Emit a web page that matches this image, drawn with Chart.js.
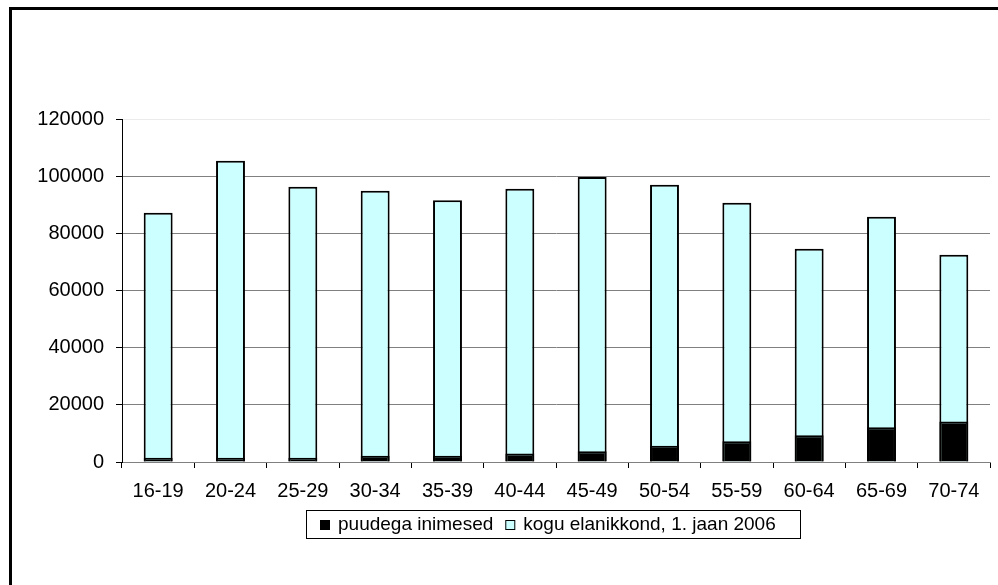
<!DOCTYPE html>
<html>
<head>
<meta charset="utf-8">
<title>Puudega inimesed vanuserühmiti</title>
<script src="https://cdn.jsdelivr.net/npm/chart.js@4/dist/chart.umd.min.js"></script>
<style>
    html, body { margin: 0; padding: 0; background: #fff; }
    canvas { display: block; }
</style>
</head>
<body>
<canvas id="chartPuue" width="998" height="585"></canvas>
<script>
// andmed (loetud pildilt)
const vanuseRuhmad = ['16-19', '20-24', '25-29', '30-34', '35-39', '40-44', '45-49', '50-54', '55-59', '60-64', '65-69', '70-74'];
const puudegaInimesed = [1500, 1500, 1500, 2200, 2200, 3000, 3800, 5700, 7300, 9400, 12200, 14200];
const koguElanikkond = [87200, 105400, 96300, 94900, 91600, 95600, 99700, 97000, 90700, 74600, 85800, 72500];
const seeriaNimed = ['puudega inimesed', 'kogu elanikkond, 1. jaan 2006'];
const yMax = 120000;
const ySamm = 20000;

const FONT = '"Liberation Sans", Arial, sans-serif';

// raam ja legend joonistatakse käsitsi
const raamJaLegend = {
    id: 'raamJaLegend',
    beforeDraw(chart) {
        const c = chart.ctx;
        c.save();
        c.fillStyle = '#fff';
        c.fillRect(0, 0, chart.width, chart.height);
        c.fillStyle = '#000';
        c.fillRect(9, 7, chart.width - 9, 3);
        c.fillRect(9, 7, 3, chart.height - 7);
        c.restore();
    },
    afterDraw(chart) {
        const c = chart.ctx;
        const kast = { x: 306, y: 510, w: 494, h: 28 };
        c.save();
        c.font = '19px ' + FONT;
        c.strokeStyle = '#000';
        c.lineWidth = 1;
        c.strokeRect(kast.x + 0.5, kast.y + 0.5, kast.w, kast.h);
        let x = kast.x + 14;
        const yKesk = kast.y + kast.h / 2 + 1;
        c.textBaseline = 'middle';
        chart.data.datasets.forEach(d => {
            c.fillStyle = d.backgroundColor;
            c.fillRect(x, yKesk - 5, 10, 10);
            c.strokeRect(x + 0.5, yKesk - 4.5, 9, 9);
            x += 10 + 8;
            c.fillStyle = '#000';
            c.fillText(d.label, x, yKesk);
            x += c.measureText(d.label).width + 12;
        });
        c.restore();
    }
};

new Chart(document.getElementById('chartPuue'), {
    type: 'bar',
    data: {
        labels: vanuseRuhmad,
        datasets: [
            { label: seeriaNimed[0], data: puudegaInimesed, backgroundColor: '#000000', borderColor: '#000', borderWidth: 2 },
            { label: seeriaNimed[1], data: koguElanikkond, backgroundColor: '#ccffff', borderColor: '#000', borderWidth: 2 }
        ]
    },
    options: {
        responsive: false,
        animation: false,
        devicePixelRatio: 1,
        categoryPercentage: 1,
        barPercentage: 0.4,
        layout: { padding: { left: 0, right: 8, top: 119, bottom: 73 } },
        plugins: { legend: { display: false }, tooltip: { enabled: false } },
        scales: {
            x: {
                stacked: true,
                afterFit: s => { s.height = 50; },
                grid: { drawOnChartArea: false, offset: true, tickLength: 6, color: '#000' },
                border: { color: '#808080', width: 1 },
                ticks: { color: '#000', font: { family: FONT, size: 20 }, padding: 11, maxRotation: 0, autoSkip: false }
            },
            y: {
                stacked: false,
                min: 0,
                max: yMax,
                afterFit: s => { s.width = 122; },
                grid: {
                    color: ctx => (ctx.tick && ctx.tick.value === yMax) ? '#ebebeb' : '#808080',
                    tickColor: '#000',
                    tickLength: 6,
                    lineWidth: 1
                },
                border: { color: '#000', width: 1 },
                ticks: {
                    stepSize: ySamm,
                    color: '#000',
                    font: { family: FONT, size: 20 },
                    padding: 12,
                    callback: v => String(v)
                }
            }
        }
    },
    plugins: [raamJaLegend]
});
</script>
</body>
</html>
